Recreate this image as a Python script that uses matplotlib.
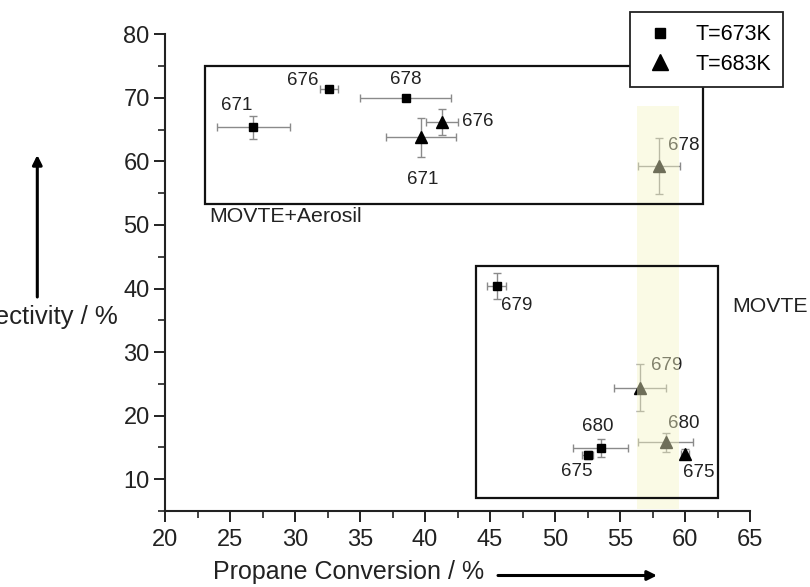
import matplotlib
matplotlib.use("Agg")
import matplotlib.pyplot as plt
from matplotlib.patches import Rectangle
from matplotlib.lines import Line2D

plt.rcParams['font.family'] = ['Liberation Sans', 'DejaVu Sans']

# T=673K (squares)
sq_x = [26.8, 32.6, 38.5, 45.5, 52.5, 53.5]
sq_y = [65.4, 71.4, 70.0, 40.4, 13.8, 14.9]
sq_xerr = [2.8, 0.7, 3.5, 0.7, 0.4, 2.1]
sq_yerr = [1.8, 0.4, 0.3, 2.1, 0.6, 1.4]
sq_lab = ['671', '676', '678', '679', '675', '680']
sq_off = [(-17, 22), (-26, 8), (0, 18), (20, -20), (-11, -16), (-3, 22)]

# T=683K (triangles)
tri_x = [39.7, 41.3, 58.0, 56.5, 58.5, 60.0]
tri_y = [63.8, 66.2, 59.3, 24.4, 15.8, 14.0]
tri_xerr = [2.7, 1.2, 1.6, 2.0, 2.1, 0.3]
tri_yerr = [3.1, 2.0, 4.4, 3.7, 1.5, 0.7]
tri_lab = ['671', '676', '678', '679', '680', '675']
tri_off = [(2, -42), (36, 1), (25, 20), (27, 22), (18, 19), (14, -19)]

# frames and highlight band (data units)
upper_box = [23.1, 53.35, 61.35, 75.05]
lower_box = [43.95, 7.05, 62.55, 43.55]
band_x = [56.3, 59.5]
band_y = [5.3, 68.7]

fig = plt.figure(figsize=(8.1, 5.87), dpi=100)
ax = fig.add_axes([165/810, 76/587, 585/810, 476.7/587])
ax.set_xlim(20, 65)
ax.set_ylim(5, 80)

ebkw = dict(fmt='none', ecolor='#8a8a8a', elinewidth=1, capsize=3, capthick=1, zorder=2)
ax.errorbar(sq_x, sq_y, xerr=sq_xerr, yerr=sq_yerr, **ebkw)
ax.errorbar(tri_x, tri_y, xerr=tri_xerr, yerr=tri_yerr, **ebkw)
ax.plot(sq_x, sq_y, 's', color='black', ms=6.2, ls='none', zorder=3)
ax.plot(tri_x, tri_y, '^', color='black', ms=8.8, ls='none', zorder=3)

for x, y, t, o in zip(sq_x, sq_y, sq_lab, sq_off):
    ax.annotate(t, (x, y), xytext=o, textcoords='offset pixels',
                ha='center', va='center', fontsize=13.5, color='#222222')
for x, y, t, o in zip(tri_x, tri_y, tri_lab, tri_off):
    ax.annotate(t, (x, y), xytext=o, textcoords='offset pixels',
                ha='center', va='center', fontsize=13.5, color='#222222')

# yellow band over everything
ax.add_patch(Rectangle((band_x[0], band_y[0]), band_x[1] - band_x[0], band_y[1] - band_y[0],
                       facecolor=(0.965, 0.965, 0.78), alpha=0.45, edgecolor='none', zorder=10))

for b in (upper_box, lower_box):
    ax.add_patch(Rectangle((b[0], b[1]), b[2] - b[0], b[3] - b[1], fill=False,
                           edgecolor='#111111', lw=1.6, zorder=11, clip_on=False))

ax.text(23.4, 51.3, 'MOVTE+Aerosil', fontsize=15.3, ha='left', va='center', color='#222222')
ax.text(63.65, 37.15, 'MOVTE', fontsize=15.3, ha='left', va='center', color='#222222', clip_on=False)

ax.spines['top'].set_visible(False)
ax.spines['right'].set_visible(False)
for s in ('left', 'bottom'):
    ax.spines[s].set_linewidth(1.5)
    ax.spines[s].set_color('#222222')
ax.set_xticks(range(20, 66, 5))
ax.set_yticks(range(10, 81, 10))
ax.set_xticks([22.5 + 5 * i for i in range(9)], minor=True)
ax.set_yticks([5 + 10 * i for i in range(8)], minor=True)
ax.tick_params(which='major', direction='out', length=8, width=1.4, labelsize=17,
               colors='#222222')
ax.tick_params(which='minor', direction='out', length=5, width=1.2, colors='#222222')
ax.tick_params(axis='x', pad=5)
ax.tick_params(axis='y', pad=3)

# axis titles with arrows
fig.text(213/810, 1 - 572/587, 'Propane Conversion / %', fontsize=18, ha='left', va='center',
         color='#222222')
fig.text(118/810, 1 - 316.7/587, 'Propene Selectivity / %', fontsize=18.5, ha='right', va='center',
         color='#222222')
arrow = dict(arrowstyle='-|>', lw=2.2, color='black', mutation_scale=14, shrinkA=0, shrinkB=0)
ax.annotate('', xy=(657/810, 1 - 575.5/587), xytext=(498/810, 1 - 575.5/587),
            xycoords='figure fraction', arrowprops=arrow)
ax.annotate('', xy=(37.3/810, 1 - 155/587), xytext=(37.3/810, 1 - 297/587),
            xycoords='figure fraction', arrowprops=arrow)

handles = [Line2D([], [], marker='s', color='black', ls='none', ms=6.5),
           Line2D([], [], marker='^', color='black', ls='none', ms=11)]
leg = fig.legend(handles, ['T=673K', 'T=683K'], loc='upper left',
                 bbox_to_anchor=(630/810, 1 - 12.3/587), fontsize=15.5, frameon=True,
                 fancybox=False, edgecolor='#222222', framealpha=1, borderaxespad=0,
                 borderpad=0.55, handlelength=1.7, handletextpad=0.8, labelspacing=0.4)
leg.get_frame().set_linewidth(1.3)

fig.savefig('out.png', dpi=100)
